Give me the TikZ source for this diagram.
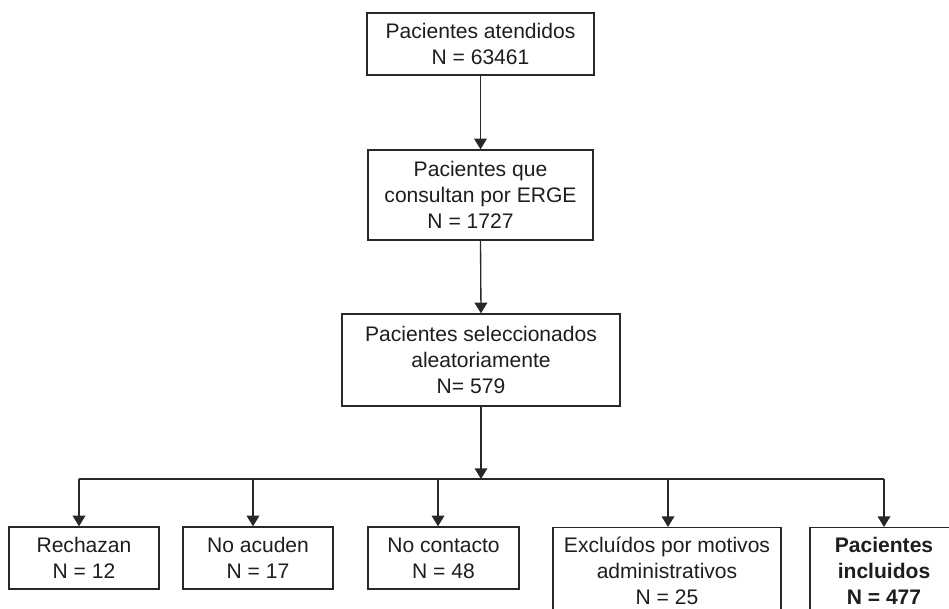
\documentclass[tikz,border=0pt]{standalone}
\usepackage{fontspec}
\setmainfont{Liberation Sans}
\usetikzlibrary{arrows.meta}

\begin{document}
\begin{tikzpicture}[x=0.75pt,y=-0.75pt,
  box/.style={draw=lineColor,line width=1pt,fill=white,align=center,text=textColor,
    font=\fontsize{15.8}{19.5}\selectfont,inner sep=0pt},
  flow/.style={draw=lineColor,line width=1pt,-{Triangle[length=8pt,width=9.5pt]}},
  branch/.style={draw=lineColor,line width=1pt}]
\definecolor{lineColor}{RGB}{40,40,40}
\definecolor{textColor}{RGB}{30,30,30}
\path[use as bounding box,clip] (0,0) rectangle (949,609);

% main column
\node[box,minimum width=170.3pt,minimum height=46.5pt] (atendidos) at (480.5, 44) {Pacientes atendidos\\N = 63461};
\node[box,minimum width=168.8pt,minimum height=67.5pt] (consultan) at (480.5,195) {Pacientes que\\consultan por ERGE\\N = 1727\hspace*{15pt}};
\node[box,minimum width=208.5pt,minimum height=69pt] (seleccionados) at (481,360) {Pacientes seleccionados\\aleatoriamente\\N= 579\hspace*{15pt}};

\draw[flow] (atendidos.south) -- (consultan.north);
\draw[flow] (consultan.south) -- (seleccionados.north);

% split into the five groups
\coordinate (split) at (482,479);
\coordinate (b1) at ( 79,479);
\coordinate (b2) at (253,479);
\coordinate (b3) at (438,479);
\coordinate (b4) at (668,479);
\coordinate (b5) at (884,479);

\node[box,minimum width=112.5pt,minimum height=46.5pt] (rechazan) at ( 84,558) {Rechazan\\N = 12};
\node[box,minimum width=112.5pt,minimum height=46.5pt] (noacuden) at (258,558) {No acuden\\N = 17};
\node[box,minimum width=113.3pt,minimum height=46.5pt] (nocontacto) at (443.5,558) {No contacto\\N = 48};
\node[box,minimum width=171pt,minimum height=65pt,anchor=north] (excluidos) at (667,527) {Excluídos por motivos\\administrativos\\N = 25};
\node[box,minimum width=111pt,minimum height=65pt,anchor=north,font=\fontsize{15.8}{19.5}\selectfont\bfseries] (incluidos) at (884,527) {Pacientes\\incluidos\\N = 477};

\draw[flow] (seleccionados.south) -- (seleccionados.south |- split);
\draw[branch] (b1) -- (b5);
\draw[flow] (b1) -- (b1 |- rechazan.north);
\draw[flow] (b2) -- (b2 |- noacuden.north);
\draw[flow] (b3) -- (b3 |- nocontacto.north);
\draw[flow] (b4) -- (b4 |- excluidos.north);
\draw[flow] (b5) -- (b5 |- incluidos.north);
\end{tikzpicture}
\end{document}
